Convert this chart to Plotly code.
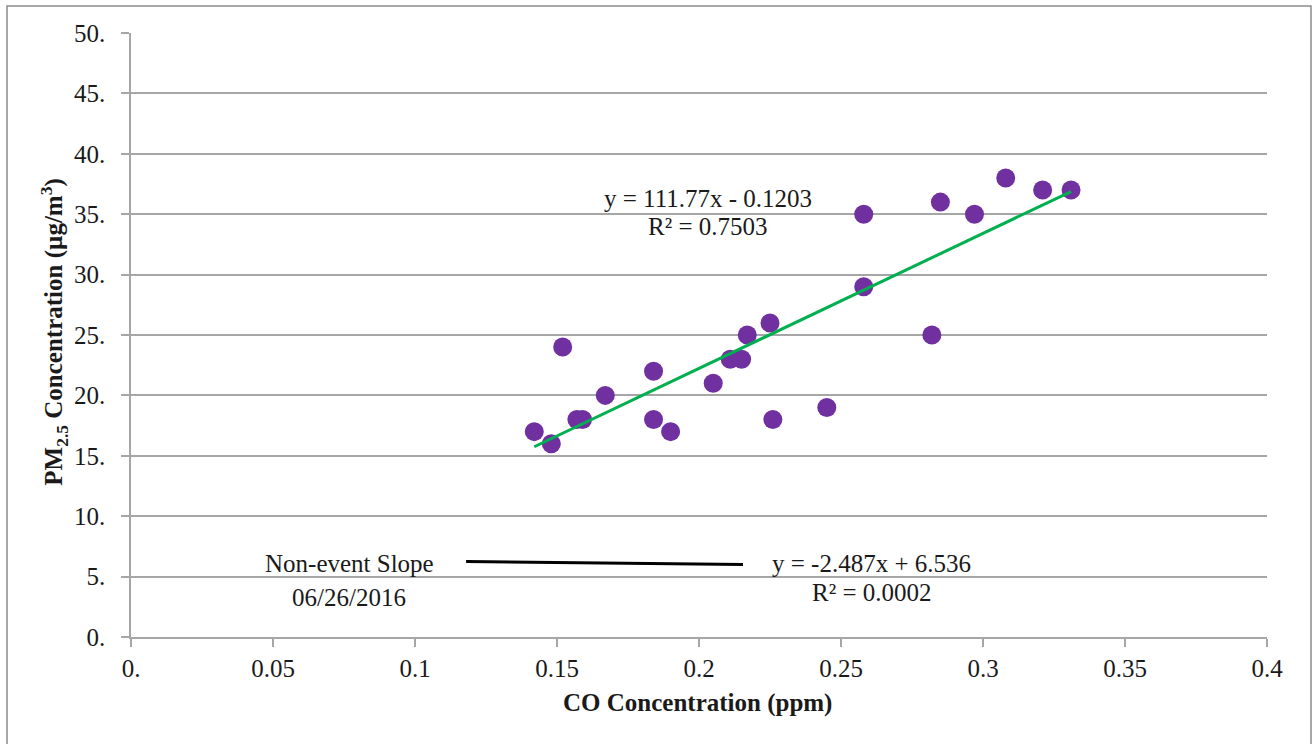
import plotly.graph_objects as go

# Event-day observations: CO (ppm) vs PM2.5 (µg/m3)
co_ppm = [0.142, 0.148, 0.152, 0.157, 0.159, 0.167, 0.184, 0.184, 0.190, 0.205,
          0.211, 0.215, 0.217, 0.225, 0.226, 0.245, 0.258, 0.258, 0.282, 0.285,
          0.297, 0.308, 0.321, 0.331]
pm25 = [17, 16, 24, 18, 18, 20, 22, 18, 17, 21,
        23, 23, 25, 26, 18, 19, 35, 29, 25, 36,
        35, 38, 37, 37]

# Linear fits (slope, intercept) and the CO span each fit line covers
event_slope, event_intercept = 111.77, -0.1203
event_r2 = 0.7503
nonevent_slope, nonevent_intercept = -2.487, 6.536
nonevent_r2 = 0.0002
nonevent_co_span = [0.118, 0.2155]

x_ticks = [0, 0.05, 0.1, 0.15, 0.2, 0.25, 0.3, 0.35, 0.4]
x_tick_text = ["0.", "0.05", "0.1", "0.15", "0.2", "0.25", "0.3", "0.35", "0.4"]
y_ticks = [0, 5, 10, 15, 20, 25, 30, 35, 40, 45, 50]
y_tick_text = ["0.", "5.", "10.", "15.", "20.", "25.", "30.", "35.", "40.", "45.", "50."]

FONT = "Liberation Serif"
TEXT = "#1a1a1a"
GRID = "#a6a6a6"

event_fit_x = [min(co_ppm), max(co_ppm)]
event_fit_y = [event_slope * v + event_intercept for v in event_fit_x]
nonevent_fit_y = [nonevent_slope * v + nonevent_intercept for v in nonevent_co_span]

fig = go.Figure()
fig.add_trace(go.Scatter(
    x=co_ppm, y=pm25, mode="markers",
    marker=dict(color="#7030A0", size=19, line=dict(width=0)),
    showlegend=False, hoverinfo="x+y",
))
fig.add_trace(go.Scatter(
    x=event_fit_x, y=event_fit_y, mode="lines",
    line=dict(color="#00B050", width=3), showlegend=False,
))
fig.add_trace(go.Scatter(
    x=nonevent_co_span, y=nonevent_fit_y, mode="lines",
    line=dict(color="#000000", width=3), showlegend=False,
))

ann_font = dict(family=FONT, size=25, color=TEXT)
fig.add_annotation(x=0.2033, y=36.3, xref="x", yref="y", showarrow=False,
                   text=f"y = {event_slope}x - {abs(event_intercept)}", font=ann_font)
fig.add_annotation(x=0.2033, y=34.0, xref="x", yref="y", showarrow=False,
                   text=f"R² = {event_r2}", font=ann_font)
fig.add_annotation(x=0.2609, y=6.1, xref="x", yref="y", showarrow=False,
                   text=f"y = {nonevent_slope}x + {nonevent_intercept}", font=ann_font)
fig.add_annotation(x=0.2609, y=3.65, xref="x", yref="y", showarrow=False,
                   text=f"R² = {nonevent_r2:.4f}", font=ann_font)
fig.add_annotation(x=0.0768, y=6.1, xref="x", yref="y", showarrow=False,
                   text="Non-event Slope", font=ann_font)
fig.add_annotation(x=0.0768, y=3.3, xref="x", yref="y", showarrow=False,
                   text="06/26/2016", font=ann_font)

# Axis titles
fig.add_annotation(x=0.499, y=-0.11, xref="paper", yref="paper", showarrow=False,
                   text="<b>CO Concentration (ppm)</b>",
                   font=dict(family=FONT, size=25, color=TEXT), yanchor="middle")
fig.add_annotation(x=-0.068, y=0.505, xref="paper", yref="paper", showarrow=False,
                   text="<b>PM<sub>2.5</sub> Concentration (µg/m<sup>3</sup>)</b>",
                   textangle=-90, font=dict(family=FONT, size=25, color=TEXT),
                   xanchor="center", yanchor="middle")

# Outer chart border
fig.add_shape(type="rect", xref="paper", yref="paper",
              x0=(7 - 131) / 1136, x1=(1311 - 131) / 1136,
              y0=(637 - 760) / 604, y1=(637 - 6) / 604,
              line=dict(color="#8c8c8c", width=1.5), layer="below")

fig.update_xaxes(
    range=[0, 0.4], tickvals=x_ticks, ticktext=x_tick_text,
    showgrid=False, zeroline=False, showline=True, linecolor=GRID, linewidth=1.5,
    ticks="outside", ticklen=8, tickcolor=GRID, tickwidth=1.5,
    tickfont=dict(family=FONT, size=25, color=TEXT),
)
fig.update_yaxes(
    range=[0, 50], tickvals=y_ticks, ticktext=y_tick_text,
    showgrid=True, gridcolor=GRID, gridwidth=1.5, zeroline=False,
    showline=True, linecolor=GRID, linewidth=1.5,
    ticks="outside", ticklen=8, tickcolor=GRID, tickwidth=1.5,
    ticklabelstandoff=11,
    tickfont=dict(family=FONT, size=25, color=TEXT),
)
fig.update_layout(
    width=1316, height=744,
    margin=dict(l=131, r=49, t=33, b=107),
    paper_bgcolor="white", plot_bgcolor="white",
    font=dict(family=FONT, color=TEXT),
    showlegend=False,
)

fig.write_html("out.html")
